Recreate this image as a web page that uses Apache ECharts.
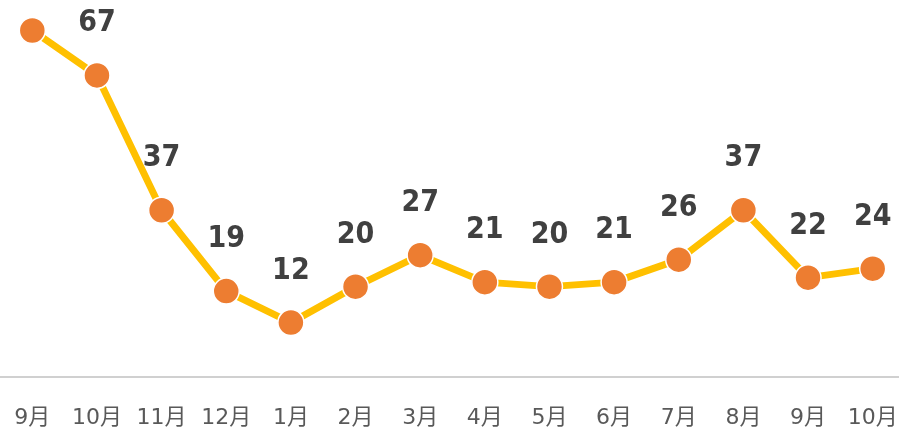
<!DOCTYPE html>
<html>
<head>
<meta charset="utf-8">
<style>
  html, body { margin: 0; padding: 0; background: #fff; }
  #main { width: 899px; height: 429px; }
</style>
<script src="https://cdn.jsdelivr.net/npm/echarts@6/dist/echarts.min.js"></script>
</head>
<body>
<div id="main"></div>
<script>
// months along the bottom
var months = ['9月', '10月', '11月', '12月', '1月', '2月', '3月', '4月', '5月', '6月', '7月', '8月', '9月', '10月'];
// monthly counts
var counts = [77, 67, 37, 19, 12, 20, 27, 21, 20, 21, 26, 37, 22, 24];

var chart = echarts.init(document.getElementById('main'));

chart.setOption({
  animation: false,
  grid: { left: 0, width: 905, top: 17, height: 359.5, outerBoundsMode: 'none', containLabel: false },
  xAxis: {
    type: 'category',
    data: months,
    boundaryGap: true,
    axisLine: { lineStyle: { color: '#d0d0d0', width: 2 } },
    axisTick: { show: false },
    axisLabel: {
      interval: 0,
      hideOverlap: false,
      color: '#595959',
      fontSize: 22,
      fontFamily: 'DejaVu Sans, Noto Sans CJK JP',
      margin: 31
    }
  },
  yAxis: {
    type: 'value',
    min: 0,
    max: 80,
    show: false
  },
  series: [{
    type: 'line',
    data: counts,
    symbol: 'circle',
    symbolSize: 26,
    lineStyle: { color: '#FFC000', width: 7 },
    itemStyle: { color: '#ED7D31', borderColor: '#fff', borderWidth: 1.5 },
    label: {
      show: true,
      position: 'top',
      distance: 23,
      color: '#404040',
      fontSize: 30,
      fontWeight: 'bold',
      fontFamily: 'DejaVu Sans Condensed'
    }
  }]
});
</script>
</body>
</html>
